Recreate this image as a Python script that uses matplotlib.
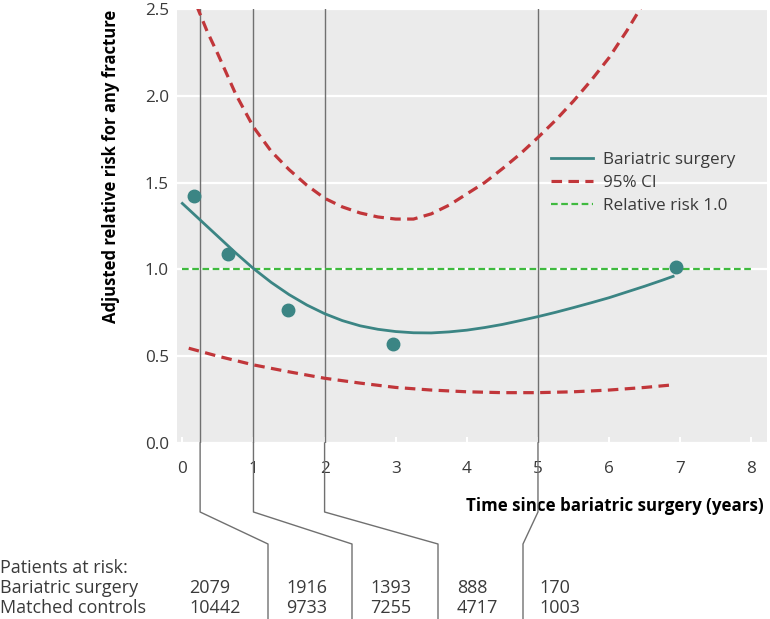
import matplotlib
matplotlib.use("Agg")
import matplotlib.pyplot as plt
from matplotlib.lines import Line2D

# values
fit_x = [0.0, 0.25, 0.5, 0.75, 1.0, 1.25, 1.5, 1.75, 2.0, 2.25, 2.5, 2.75, 3.0, 3.25, 3.5, 3.75,
         4.0, 4.25, 4.5, 4.75, 5.0, 5.25, 5.5, 5.75, 6.0, 6.25, 6.5, 6.75, 6.9]
fit_y = [1.38, 1.285, 1.19, 1.095, 1.005, 0.925, 0.855, 0.795, 0.745, 0.705, 0.675, 0.655, 0.642, 0.635, 0.634, 0.64,
         0.65, 0.665, 0.683, 0.705, 0.728, 0.753, 0.78, 0.808, 0.837, 0.87, 0.903, 0.938, 0.96]

upper_x = [0.2, 0.35, 0.5, 0.75, 1.0, 1.25, 1.5, 1.75, 2.0, 2.25, 2.5, 2.75, 3.0, 3.25, 3.5, 3.75,
           4.0, 4.25, 4.5, 4.75, 5.0, 5.25, 5.5, 5.75, 6.0, 6.25, 6.45]
upper_y = [2.52, 2.37, 2.24, 2.01, 1.82, 1.68, 1.575, 1.485, 1.41, 1.36, 1.325, 1.302, 1.29, 1.29, 1.32, 1.37,
           1.435, 1.50, 1.58, 1.665, 1.76, 1.86, 1.97, 2.09, 2.22, 2.375, 2.51]

lower_x = [0.09, 0.5, 1.0, 1.5, 2.0, 2.5, 3.0, 3.5, 4.0, 4.5, 5.0, 5.5, 6.0, 6.5, 6.9]
lower_y = [0.546, 0.50, 0.45, 0.41, 0.373, 0.345, 0.32, 0.305, 0.295, 0.29, 0.29, 0.295, 0.305, 0.32, 0.335]

obs_x = [0.16, 0.64, 1.48, 2.96, 6.94]
obs_y = [1.425, 1.09, 0.767, 0.571, 1.014]

ref_x = [0.0, 8.0]
ref_y = [1.0, 1.0]

period_edges = [0.25, 1, 2, 5]
table_rows = ['Bariatric surgery', 'Matched controls']
bariatric_at_risk = [2079, 1916, 1393, 888, 170]
controls_at_risk = [10442, 9733, 7255, 4717, 1003]
x_ticks = [0, 1, 2, 3, 4, 5, 6, 7, 8]
y_ticks = [0.0, 0.5, 1.0, 1.5, 2.0, 2.5]

teal = '#3b8584'
red = '#c1363a'
green = '#3fba3f'
grey_line = '#707070'
text_col = '#3a3a3a'

plt.rcParams['font.family'] = ['Open Sans', 'DejaVu Sans']

W, H = 770, 619
fig = plt.figure(figsize=(W / 100, H / 100), dpi=100)


def px(x, y):
    # pixel position (from top-left) -> figure fraction
    return x / W, 1 - y / H


ax_left, ax_right, ax_top, ax_bot = 177, 767, 9, 443
ax = fig.add_axes([ax_left / W, 1 - ax_bot / H, (ax_right - ax_left) / W, (ax_bot - ax_top) / H])
ax.set_facecolor('#ebebeb')
ax.set_xlim(-0.075, 8.22)
ax.set_ylim(0, 2.5)
for s in ax.spines.values():
    s.set_visible(False)

ax.set_axisbelow(True)
ax.yaxis.grid(True, color='white', linewidth=1.6)
ax.set_xticks(x_ticks)
ax.set_yticks(y_ticks)
ax.set_yticklabels([f'{v:.1f}' for v in y_ticks])
ax.tick_params(axis='x', direction='in', length=4, width=1.5, color='white',
               pad=13, labelsize=12.3, labelcolor=text_col)
ax.tick_params(axis='y', length=0, pad=6, labelsize=12.3, labelcolor=text_col)

# period separators inside the axes
for e in period_edges:
    ax.axvline(e, color=grey_line, linewidth=1.0, zorder=1.5)

ax.plot(ref_x, ref_y, color=green, linewidth=1.6, dashes=(3, 1.6), label='Relative risk 1.0', zorder=2)
ax.plot(upper_x, upper_y, color=red, linewidth=2.3, dashes=(3.3, 2.0), zorder=3)
ax.plot(lower_x, lower_y, color=red, linewidth=2.3, dashes=(3.3, 2.0), label='95% CI', zorder=3)
ax.plot(fit_x, fit_y, color=teal, linewidth=2.0, label='Bariatric surgery', zorder=4)
ax.plot(obs_x, obs_y, 'o', color=teal, markersize=9, zorder=5, clip_on=False)

handles, labels = ax.get_legend_handles_labels()
order = [2, 1, 0]
leg = ax.legend([handles[i] for i in order], [labels[i] for i in order],
                loc='upper left', bbox_to_anchor=((551 - ax_left) / (ax_right - ax_left), (ax_bot - 152) / (ax_bot - ax_top)),
                frameon=False, fontsize=12.3, handlelength=2.45, handletextpad=0.6,
                labelspacing=0.4, borderpad=0, borderaxespad=0)
for t in leg.get_texts():
    t.set_color(text_col)

ax.set_ylabel('Adjusted relative risk for any fracture', fontsize=12, fontweight='bold')
ax.yaxis.set_label_coords((120 - ax_left) / (ax_right - ax_left), (ax_bot - 166) / (ax_bot - ax_top))
ax.set_xlabel('Time since bariatric surgery (years)', fontsize=12.2, fontweight='bold',
              ha='right', va='center')
ax.xaxis.set_label_coords((764 - ax_left) / (ax_right - ax_left), (ax_bot - 506) / (ax_bot - ax_top))

# connectors from the period lines down to the at-risk table
col_line_x = [268, 352, 438, 523]
for e, cx in zip(period_edges, col_line_x):
    ex = ax.transData.transform((e, 0))[0]
    ex_px = ex * W / fig.bbox.width
    xs, ys = zip(px(ex_px, ax_bot), px(ex_px, 512), px(cx, 544), px(cx, H + 2))
    fig.add_artist(Line2D(xs, ys, color=grey_line, linewidth=1.0, transform=fig.transFigure))

# at-risk table
fig.text(*px(0, 568), 'Patients at risk:', fontsize=13, color=text_col, va='center', ha='left')
col_text_x = [189, 286, 370, 457, 539]
for row, vals, y in zip(table_rows, [bariatric_at_risk, controls_at_risk], [588, 608]):
    fig.text(*px(0, y), row, fontsize=13, color=text_col, va='center', ha='left')
    for v, cx in zip(vals, col_text_x):
        fig.text(*px(cx, y), str(v), fontsize=13, color=text_col, va='center', ha='left')

fig.savefig('out.png', dpi=100)
